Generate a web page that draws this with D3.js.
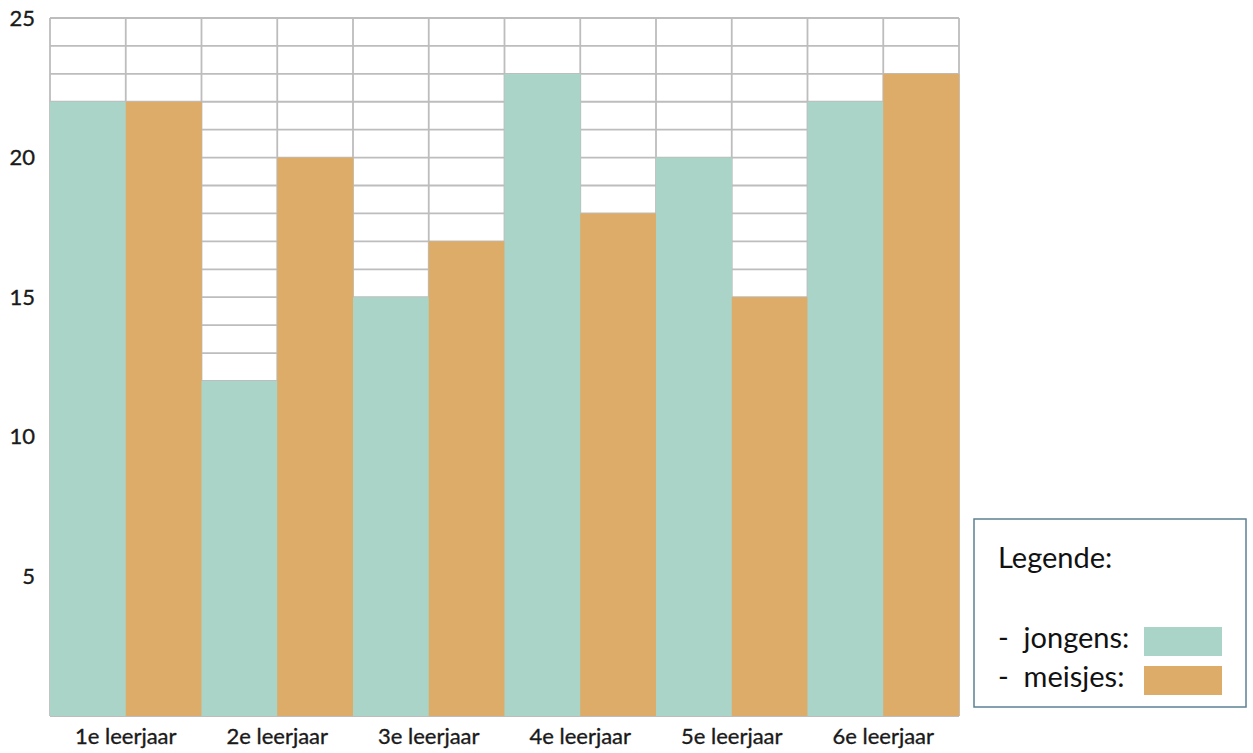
<!DOCTYPE html>
<html><head><meta charset="utf-8">
<script src="https://cdn.jsdelivr.net/npm/d3@7"></script>
<style>body{margin:0;background:#fff;} svg{display:block;font-family:Lato,"Open Sans",sans-serif;}</style>
</head><body>
<svg id="c" width="1253" height="753"></svg>
<script>
const categories = ["1e leerjaar","2e leerjaar","3e leerjaar","4e leerjaar","5e leerjaar","6e leerjaar"];
const jongens = [22,12,15,23,20,22];
const meisjes = [22,20,17,18,15,23];
const yTicks = [5,10,15,20,25];
const seriesNames = ["jongens","meisjes"];
const colors = ["#aad4c7","#dcac68"];

const svg = d3.select("#c");
const L=50, R=959, T=18, B=716;
const y = d3.scaleLinear().domain([0,25]).range([B,T]);
const x0 = d3.scaleBand().domain(categories).range([L,R]).padding(0);
const x1 = d3.scaleBand().domain(seriesNames).range([0,x0.bandwidth()]).padding(0);

// grid
const grid = svg.append("g").attr("stroke","#bdbdbd").attr("stroke-width",1.8);
d3.range(0,26).forEach(v=>{
  grid.append("line").attr("x1",L).attr("x2",R).attr("y1",y(v)).attr("y2",y(v));
});
const vx=[];
categories.forEach(c=>seriesNames.forEach(s=>vx.push(x0(c)+x1(s))));
vx.push(R);
vx.forEach(v=>grid.append("line").attr("x1",v).attr("x2",v).attr("y1",T).attr("y2",B));

// bars
const data = categories.map((c,i)=>({c, vals:[jongens[i],meisjes[i]]}));
svg.append("g").selectAll("g").data(data).join("g")
  .attr("transform",d=>`translate(${x0(d.c)},0)`)
  .selectAll("rect").data(d=>d.vals.map((v,j)=>({s:seriesNames[j],v,j})))
  .join("rect")
  .attr("x",d=>x1(d.s)).attr("width",x1.bandwidth()+0.3)
  .attr("y",d=>y(d.v)).attr("height",d=>B-y(d.v))
  .attr("fill",d=>colors[d.j]);

// y axis labels
const ya = svg.append("g").attr("transform",`translate(35,0)`)
  .call(d3.axisLeft(y).tickValues(yTicks).tickSize(0).tickPadding(0));
ya.select(".domain").remove();
ya.selectAll("text").attr("font-size",22).attr("fill","#1a1a1a").attr("stroke","#1a1a1a").attr("stroke-width",0.35).attr("font-family","Lato,sans-serif");

// x axis labels
const xa = svg.append("g").attr("transform",`translate(0,${B})`)
  .call(d3.axisBottom(x0).tickSize(0).tickPadding(0));
xa.select(".domain").remove();
xa.selectAll("text").attr("y",28).attr("dy",0).attr("font-size",22).attr("fill","#1a1a1a").attr("stroke","#1a1a1a").attr("stroke-width",0.35).attr("font-family","Lato,sans-serif");

// legend
const lg = svg.append("g");
lg.append("rect").attr("x",974).attr("y",519).attr("width",272).attr("height",188)
  .attr("fill","#fff").attr("stroke","#5d8193").attr("stroke-width",1.5);
lg.append("text").attr("x",998).attr("y",568).attr("font-size",29).attr("fill","#111").text("Legende:");
const labels = ["-  jongens:","-  meisjes:"];
const swY = [627,666];
[648,687].forEach((yy,i)=>{
  lg.append("text").attr("x",998).attr("y",yy).attr("font-size",29).attr("fill","#111")
    .attr("xml:space","preserve").style("white-space","pre").text(labels[i]);
  lg.append("rect").attr("x",1144).attr("y",swY[i]).attr("width",78).attr("height",29).attr("fill",colors[i]);
});
</script>
</body></html>
